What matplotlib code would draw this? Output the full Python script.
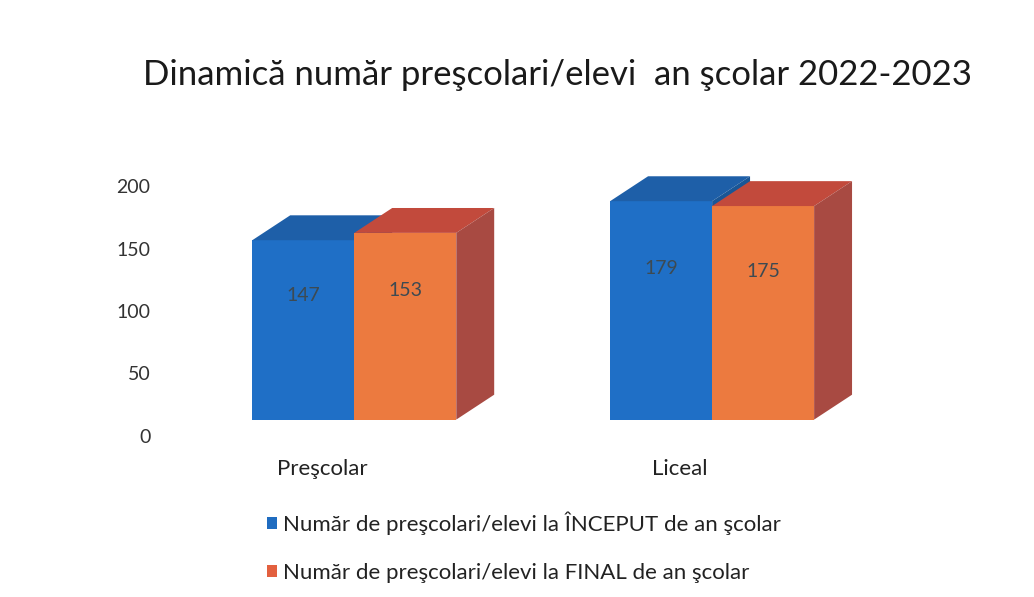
import matplotlib.pyplot as plt
from matplotlib.patches import Rectangle, Polygon, Patch

plt.rcParams["font.family"] = ["Lato", "DejaVu Sans"]

title = "Dinamică număr preşcolari/elevi  an şcolar 2022-2023"
categories = ["Preşcolar", "Liceal"]
series_names = [
    "Număr de preşcolari/elevi la ÎNCEPUT de an şcolar",
    "Număr de preşcolari/elevi la FINAL de an şcolar",
]
inceput = [147, 179]
final = [153, 175]
yticks = [0, 50, 100, 150, 200]

front_colors = ["#1f6fc6", "#ec7a3f"]
top_colors = ["#1e5fa8", "#c24a3c"]
side_colors = ["#1a5696", "#a84a42"]
legend_colors = ["#1f6cc0", "#e3603f"]

w = 0.285      # bar width
dx, dy = 0.106, 20   # depth offset
base = 14
scale = 0.98

fig = plt.figure(figsize=(10.34, 5.97), dpi=100)
ax = fig.add_axes([0.1547, 0.2471, 0.7157, 0.511])
ax.set_xlim(-0.543, 1.525)
ax.set_ylim(-10, 235)
ax.axis("off")

for i, cat in enumerate(categories):
    for j, vals in enumerate([inceput, final]):
        v = vals[i]
        x0 = i - w + j * w
        top = base + v * scale
        ax.add_patch(Rectangle((x0, base), w, top - base, facecolor=front_colors[j],
                               edgecolor="none", zorder=2 + j))
        ax.add_patch(Polygon([(x0, top), (x0 + w, top), (x0 + w + dx, top + dy),
                              (x0 + dx, top + dy)], closed=True,
                             facecolor=top_colors[j], edgecolor="none", zorder=2 + j))
        ax.add_patch(Polygon([(x0 + w, base), (x0 + w + dx, base + dy),
                              (x0 + w + dx, top + dy), (x0 + w, top)], closed=True,
                             facecolor=side_colors[j], edgecolor="none", zorder=2 + j))
        ax.text(x0 + w / 2, base + v * 0.68, str(v), ha="center", va="center",
                fontsize=14, color="#3d4a52", zorder=5)
    ax.text(i - 0.09, -26, cat, ha="center", va="center", fontsize=16, color="#222222")

for t in yticks:
    ax.text(-0.57, t, str(t), ha="right", va="center", fontsize=14, color="#333333")

fig.text(0.539, 0.874, title, ha="center", va="center", fontsize=25, color="#1a1a1a")

handles = [Patch(facecolor=c, edgecolor="none") for c in legend_colors]
fig.legend(handles, series_names, loc="upper left", bbox_to_anchor=(0.258, 0.143),
           frameon=False, fontsize=16, handlelength=0.45, handleheight=0.45,
           handletextpad=0.3, labelspacing=1.25, borderpad=0, borderaxespad=0,
           labelcolor="#222222")

fig.savefig("out.png", dpi=100)
